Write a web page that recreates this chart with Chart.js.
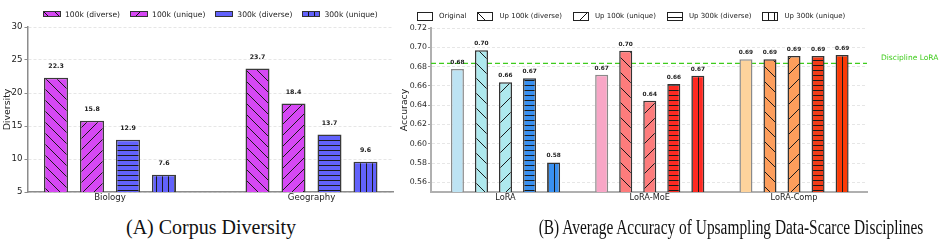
<!DOCTYPE html>
<html><head><meta charset="utf-8">
<script src="https://cdn.jsdelivr.net/npm/chart.js@4.4.1/dist/chart.umd.min.js"></script>
<style>
html,body{margin:0;padding:0;background:#fff;width:946px;height:243px;overflow:hidden;position:relative;font-family:"DejaVu Sans";}
canvas.chart{position:absolute;top:0;}
#cA{left:0;} #cB{left:398px;}
.legend{position:absolute;display:flex;align-items:center;white-space:nowrap;color:#222;height:12px;}
.legend .item{display:flex;align-items:center;}
.legend canvas{display:block;}
.caption{position:absolute;top:216px;font-family:"Liberation Serif";font-size:20px;line-height:22px;color:#111;white-space:nowrap;transform:translateX(-50%);}
</style></head><body>
<canvas id="cA" class="chart" width="421" height="210"></canvas>
<canvas id="cB" class="chart" width="548" height="210"></canvas>
<div id="legA" class="legend" style="left:43px;top:8px;font-size:7.6px;"></div>
<div id="legB" class="legend" style="left:417px;top:10px;font-size:7px;"></div>
<div class="caption" style="left:211px;">(A) Corpus Diversity</div>
<div class="caption" style="left:731px;transform:translateX(-50%) scaleX(0.77);">(B) Average Accuracy of Upsampling Data-Scarce Disciplines</div>
<script>
// ---------- data ----------
const subjects = ['Biology', 'Geography'];
const diversityTicks = [5, 10, 15, 20, 25, 30];
const div100kDiverse = [22.3, 23.7];
const div100kUnique = [15.8, 18.4];
const div300kDiverse = [12.9, 13.7];
const div300kUnique = [7.6, 9.6];

const methods = ['LoRA', 'LoRA-MoE', 'LoRA-Comp'];
const accuracyTicks = [0.56, 0.58, 0.60, 0.62, 0.64, 0.66, 0.68, 0.70, 0.72];
const accOriginal = [0.6775, 0.6716, 0.6876];
const accUp100kDiverse = [0.6970, 0.6965, 0.6876];
const accUp100kUnique = [0.6637, 0.6446, 0.6910];
const accUp300kDiverse = [0.6678, 0.6619, 0.6910];
const accUp300kUnique = [0.5807, 0.6705, 0.6920];
const disciplineLoRA = 0.6834;
const disciplineLabel = 'Discipline LoRA';

// ---------- helpers ----------
function makeHatch(ctx, kind, bg, size, color, lw) {
  const c = document.createElement('canvas');
  c.width = size; c.height = size;
  const g = c.getContext('2d');
  g.fillStyle = bg || '#fff'; g.fillRect(0, 0, size, size);
  if (kind) {
    g.strokeStyle = color; g.lineWidth = lw;
    g.beginPath();
    if (kind === '\\') {
      g.moveTo(-1, -1); g.lineTo(size + 1, size + 1);
      g.moveTo(-1, size - 1); g.lineTo(1, size + 1);
      g.moveTo(size - 1, -1); g.lineTo(size + 1, 1);
    } else if (kind === '/') {
      g.moveTo(-1, size + 1); g.lineTo(size + 1, -1);
      g.moveTo(-1, 1); g.lineTo(1, -1);
      g.moveTo(size - 1, size + 1); g.lineTo(size + 1, size - 1);
    } else if (kind === '-') {
      g.moveTo(0, 0.5); g.lineTo(size, 0.5);
    } else if (kind === '|') {
      g.moveTo(0.5, 0); g.lineTo(0.5, size);
    }
    g.stroke();
  }
  return ctx.createPattern(c, 'repeat');
}
function hatchSize(kind, sizes) { return kind === '\\' || kind === '/' ? sizes.diag : (kind === '-' ? sizes.h : sizes.v); }

function buildLegend(el, items, w, h, gap, textGap, borderColor) {
  items.forEach((it, idx) => {
    const d = document.createElement('div'); d.className = 'item';
    if (idx > 0) d.style.marginLeft = gap + 'px';
    const c = document.createElement('canvas'); c.width = w; c.height = h;
    c.style.marginRight = textGap + 'px';
    const g = c.getContext('2d');
    g.fillStyle = makeHatch(g, it.hatch, it.bg, it.size, '#111', 1);
    g.fillRect(0, 0, w, h);
    g.strokeStyle = borderColor; g.lineWidth = 1; g.strokeRect(0.5, 0.5, w - 1, h - 1);
    const s = document.createElement('span'); s.textContent = it.label;
    d.appendChild(c); d.appendChild(s); el.appendChild(d);
  });
}

function valueLabelPlugin(decimals, offset, font) {
  return {
    id: 'valueLabels',
    afterDatasetsDraw(chart) {
      const ctx = chart.ctx; ctx.save();
      ctx.font = font; ctx.fillStyle = '#222'; ctx.textAlign = 'center'; ctx.textBaseline = 'middle';
      chart.data.datasets.forEach((ds, di) => {
        chart.getDatasetMeta(di).data.forEach((el, i) => {
          ctx.fillText(ds.data[i].y.toFixed(decimals), el.x, el.y - offset);
        });
      });
      ctx.restore();
    }
  };
}

const FONT = 'DejaVu Sans';

// ---------- Chart A ----------
const ctxA = document.getElementById('cA').getContext('2d');
const sizesA = {diag: 11, h: 5, v: 6};
const magenta = '#d648f4', violetBlue = '#6262fb';
const seriesA = [
  {label: '100k (diverse)', values: div100kDiverse, color: magenta, hatch: '\\'},
  {label: '100k (unique)', values: div100kUnique, color: magenta, hatch: '/'},
  {label: '300k (diverse)', values: div300kDiverse, color: violetBlue, hatch: '-'},
  {label: '300k (unique)', values: div300kUnique, color: violetBlue, hatch: '|'}
];
new Chart(ctxA, {
  type: 'bar',
  data: {
    datasets: seriesA.map(s => ({
      label: s.label,
      data: s.values.map((v, i) => ({x: i, y: v})),
      backgroundColor: makeHatch(ctxA, s.hatch, s.color, hatchSize(s.hatch, sizesA), '#1a1a1a', 1),
      borderColor: '#3a3a3a', borderWidth: 1.5, borderSkipped: 'start',
      categoryPercentage: 0.7146, barPercentage: 0.667
    }))
  },
  options: {
    responsive: false, animation: false, events: [],
    layout: {padding: {top: 27, right: 28, bottom: 2, left: 0}},
    plugins: {legend: {display: false}, tooltip: {enabled: false}},
    scales: {
      x: {
        type: 'linear', offset: false, min: -0.407, max: 1.4045,
        grid: {display: false, drawTicks: false},
        border: {display: true, color: '#8c8c8c', width: 1.5},
        afterBuildTicks: s => { s.ticks = subjects.map((_, i) => ({value: i})); },
        ticks: {callback: v => subjects[v], font: {family: FONT, size: 8.6}, color: '#222', padding: 1, maxRotation: 0, autoSkip: false},
        afterFit: s => { s.height = 16; s.paddingLeft = 0; s.paddingRight = 0; }
      },
      y: {
        type: 'linear', min: 5, max: 30,
        afterBuildTicks: s => { s.ticks = diversityTicks.map(v => ({value: v})); },
        grid: {color: '#e0e0e0', lineWidth: 0.8, tickLength: 3.5, tickColor: '#8c8c8c', tickWidth: 1},
        border: {color: '#8c8c8c', width: 1.5, dash: [3, 2]},
        ticks: {font: {family: FONT, size: 8.6}, color: '#222', padding: 2},
        title: {display: true, text: 'Diversity', font: {family: FONT, size: 9.4}, color: '#222', padding: {top: 2, bottom: 0}},
        afterFit: s => { s.width = 28; s.paddingTop = 0; s.paddingBottom = 0; }
      }
    }
  },
  plugins: [valueLabelPlugin(1, 11, 'bold 6.3px "DejaVu Sans"')]
});
buildLegend(document.getElementById('legA'),
  seriesA.map(s => ({label: s.label, hatch: s.hatch, bg: s.color, size: hatchSize(s.hatch, sizesA)})),
  18, 6, 10, 4, '#333');

// ---------- Chart B ----------
const ctxB = document.getElementById('cB').getContext('2d');
const sizesB = {diag: 15, h: 5, v: 6};
const seriesB = [
  {label: 'Original', values: accOriginal, colors: ['#bde3f3', '#f8a6c6', '#fdd39c'], hatch: null, edge: '#8a8a8a'},
  {label: 'Up 100k (diverse)', values: accUp100kDiverse, colors: ['#aee9ee', '#fd7c7c', '#fd9e5c'], hatch: '\\', edge: '#333'},
  {label: 'Up 100k (unique)', values: accUp100kUnique, colors: ['#aee9ee', '#fd7c7c', '#fd9e5c'], hatch: '/', edge: '#333'},
  {label: 'Up 300k (diverse)', values: accUp300kDiverse, colors: ['#3990f0', '#fe2a22', '#f23c18'], hatch: '-', edge: '#333'},
  {label: 'Up 300k (unique)', values: accUp300kUnique, colors: ['#3990f0', '#fe2a22', '#fb3a06'], hatch: '|', edge: '#333'}
];
const discGreen = '#3fcc1c';
const disciplinePlugin = {
  id: 'discipline',
  beforeDatasetsDraw(chart) {
    const ctx = chart.ctx; const y = chart.scales.y.getPixelForValue(disciplineLoRA);
    const {left, right} = chart.chartArea;
    ctx.save();
    ctx.strokeStyle = discGreen; ctx.lineWidth = 1.2; ctx.setLineDash([5, 3]);
    ctx.beginPath(); ctx.moveTo(left, y); ctx.lineTo(right, y); ctx.stroke();
    ctx.setLineDash([]);
    ctx.fillStyle = discGreen; ctx.font = '7.5px "DejaVu Sans"'; ctx.textAlign = 'left'; ctx.textBaseline = 'middle';
    ctx.fillText(disciplineLabel, right + 14, y - 5);
    ctx.restore();
  }
};
new Chart(ctxB, {
  type: 'bar',
  data: {
    datasets: seriesB.map(s => ({
      label: s.label,
      data: s.values.map((v, i) => ({x: i, y: v})),
      backgroundColor: s.colors.map(c => makeHatch(ctxB, s.hatch, c, hatchSize(s.hatch, sizesB), '#1a1a1a', 1)),
      borderColor: s.edge, borderWidth: 1.5, borderSkipped: 'start',
      categoryPercentage: 0.8333, barPercentage: 0.5417
    }))
  },
  options: {
    responsive: false, animation: false, events: [],
    layout: {padding: {top: 28, right: 79, bottom: 2, left: 0}},
    plugins: {legend: {display: false}, tooltip: {enabled: false}},
    scales: {
      x: {
        type: 'linear', offset: false, min: -0.5165, max: 2.506,
        grid: {display: false, drawTicks: false},
        border: {display: true, color: '#b0b0b0', width: 2},
        afterBuildTicks: s => { s.ticks = methods.map((_, i) => ({value: i})); },
        ticks: {callback: v => methods[v], font: {family: FONT, size: 8.2}, color: '#222', padding: 1, maxRotation: 0, autoSkip: false},
        afterFit: s => { s.height = 16; s.paddingLeft = 0; s.paddingRight = 0; }
      },
      y: {
        type: 'linear', min: 0.55, max: 0.72,
        afterBuildTicks: s => { s.ticks = accuracyTicks.map(v => ({value: v})); },
        grid: {color: '#e0e0e0', lineWidth: 0.8, tickLength: 3, tickColor: '#999', tickWidth: 1},
        border: {color: '#b0b0b0', width: 2, dash: [3, 2]},
        ticks: {callback: v => v.toFixed(2), font: {family: FONT, size: 7.8}, color: '#222', padding: 1},
        title: {display: true, text: 'Accuracy', font: {family: FONT, size: 9.3}, color: '#222', padding: {top: 1, bottom: 0}},
        afterFit: s => { s.width = 33; s.paddingTop = 0; s.paddingBottom = 0; }
      }
    }
  },
  plugins: [disciplinePlugin, valueLabelPlugin(2, 6.5, 'bold 5.8px "DejaVu Sans"')]
});
buildLegend(document.getElementById('legB'),
  seriesB.map(s => ({label: s.label, hatch: s.hatch, bg: '#fff', size: hatchSize(s.hatch, sizesB) })),
  16, 9, 11, 6, '#222');
</script>
</body></html>
